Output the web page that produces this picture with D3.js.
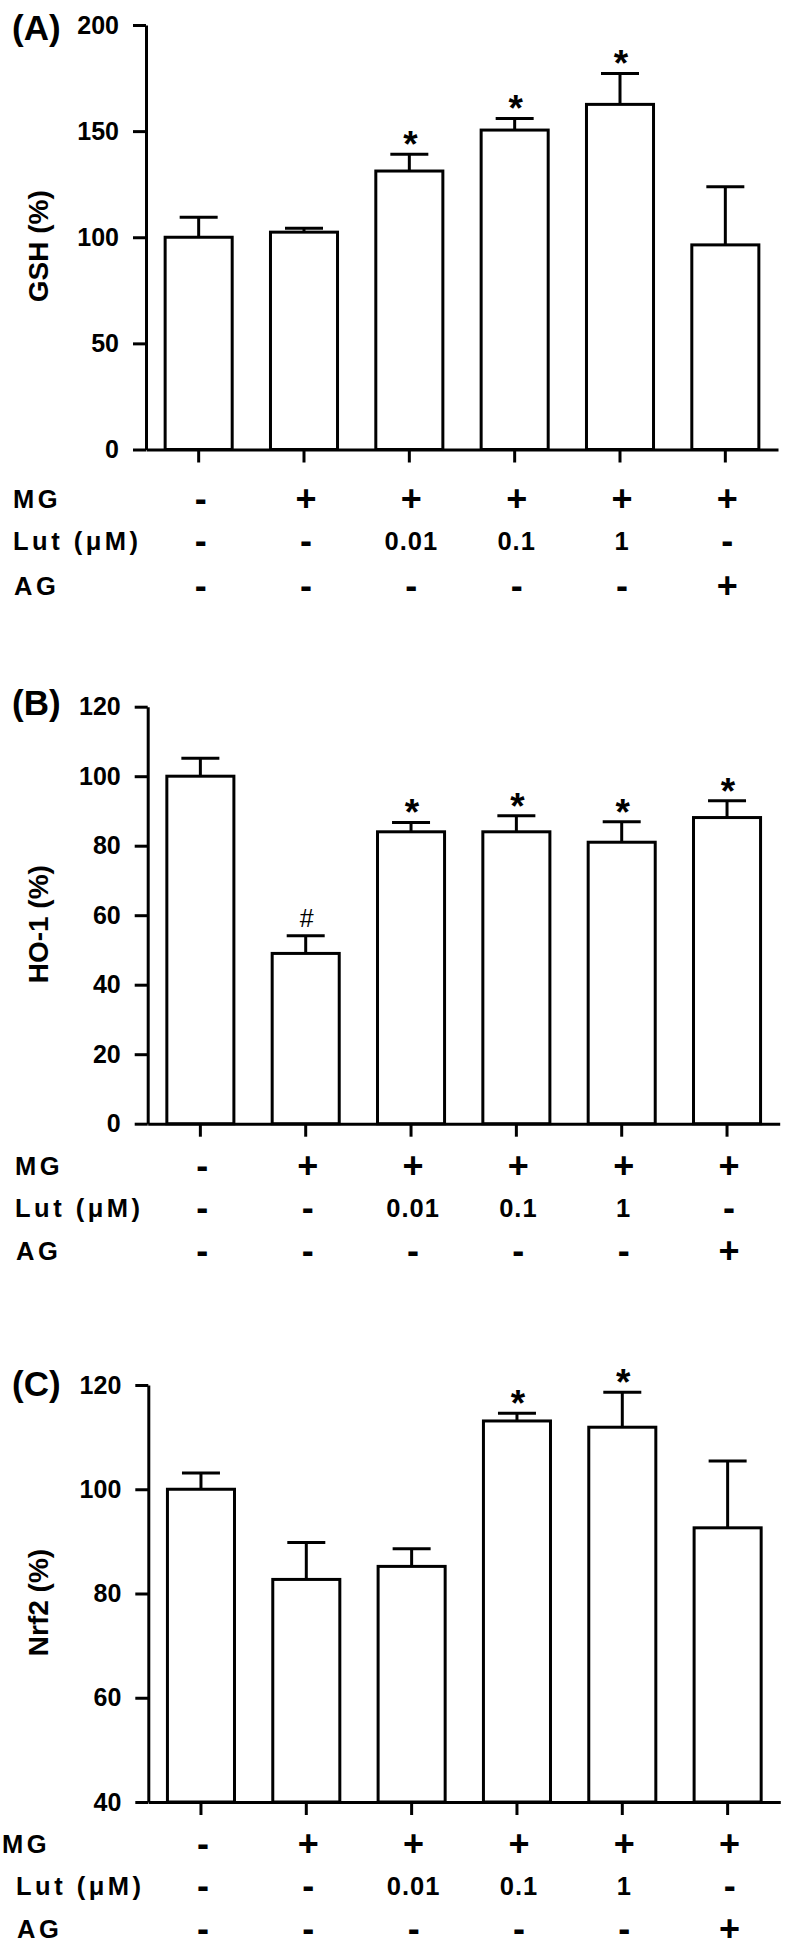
<!DOCTYPE html>
<html>
<head>
<meta charset="utf-8">
<script src="https://cdn.jsdelivr.net/npm/d3@7"></script>
<style>
  html, body { margin: 0; padding: 0; background: #fff; }
  svg { display: block; }
  text { font-family: "Liberation Sans", Arial, Helvetica, sans-serif; fill: #000; }
</style>
</head>
<body>
<svg id="chart" width="787" height="1953"></svg>
<script>
// ---------------- DATA ----------------
const groups = ["Control", "MG", "MG+Lut 0.01", "MG+Lut 0.1", "MG+Lut 1", "MG+AG"];
const rowNames = ["MG", "Lut (\u03bcM)", "AG"];
const rowMG  = ["-", "+", "+", "+", "+", "+"];
const rowLut = ["-", "-", "0.01", "0.1", "1", "-"];
const rowAG  = ["-", "-", "-", "-", "-", "+"];

const gshMean = [100, 102.4, 131.2, 150.5, 162.6, 96.4];
const gshErr  = [9.4, 1.8, 7.9, 5.5, 14.6, 27.4];
const gshSig  = ["", "", "*", "*", "*", ""];
const gshTicks = [0, 50, 100, 150, 200];

const ho1Mean = [100, 49, 84, 84, 81, 88.1];
const ho1Err  = [5.2, 5.1, 2.7, 4.6, 5.9, 4.8];
const ho1Sig  = ["", "#", "*", "*", "*", "*"];
const ho1Ticks = [0, 20, 40, 60, 80, 100, 120];

const nrf2Mean = [100, 82.7, 85.2, 113.1, 111.9, 92.6];
const nrf2Err  = [3.1, 7.1, 3.4, 1.5, 6.7, 12.8];
const nrf2Sig  = ["", "", "", "*", "*", ""];
const nrf2Ticks = [40, 60, 80, 100, 120];

const panelLetters = ["(A)", "(B)", "(C)"];
const panelTitles = ["GSH (%)", "HO-1 (%)", "Nrf2 (%)"];

// ---------------- LAYOUT ----------------
const layouts = [
  { axisX: 146,   yBottom: 449.5,  yTop: 25,    letterY: 40,   rowY: [508, 550, 595],      labelX: [13, 13, 14] },
  { axisX: 147.7, yBottom: 1123.7, yTop: 706.7, letterY: 715,  rowY: [1175, 1216.7, 1260], labelX: [15, 15, 16] },
  { axisX: 148.3, yBottom: 1802,   yTop: 1385,  letterY: 1396, rowY: [1853, 1895, 1938],   labelX: [2, 16, 17] }
];

const panels = [
  { mean: gshMean,  err: gshErr,  sig: gshSig,  ticks: gshTicks,  domain: [0, 200] },
  { mean: ho1Mean,  err: ho1Err,  sig: ho1Sig,  ticks: ho1Ticks,  domain: [0, 120] },
  { mean: nrf2Mean, err: nrf2Err, sig: nrf2Sig, ticks: nrf2Ticks, domain: [40, 120] }
];
const rows = [rowMG, rowLut, rowAG];

const svg = d3.select("#chart");
svg.append("rect").attr("width", 787).attr("height", 1953).attr("fill", "#fff");

const SW = 3;
panels.forEach((p, pi) => {
  const L = layouts[pi];
  const g = svg.append("g");

  const y = d3.scaleLinear().domain(p.domain).range([L.yBottom, L.yTop]);
  const x = d3.scaleBand().domain(groups).range([L.axisX, L.axisX + 632])
              .paddingInner(0.335).paddingOuter(0.1675);

  // y axis
  const ya = g.append("g").attr("transform", `translate(${L.axisX},0)`)
    .call(d3.axisLeft(y).tickValues(p.ticks).tickSize(13).tickSizeOuter(0).tickPadding(14));
  ya.selectAll("path, line").attr("stroke", "#000").attr("stroke-width", SW);
  ya.selectAll("text").attr("font-size", 25).attr("font-weight", "bold")
    .attr("font-family", "'Liberation Sans', Arial, sans-serif").attr("fill", "#000");

  // x axis
  const xa = g.append("g").attr("transform", `translate(0,${L.yBottom})`)
    .call(d3.axisBottom(x).tickSize(13).tickSizeOuter(0).tickFormat(() => ""));
  xa.selectAll("path, line").attr("stroke", "#000").attr("stroke-width", SW);

  // error bars
  groups.forEach((grp, i) => {
    const cx = x(grp) + x.bandwidth() / 2;
    const yt = y(p.mean[i] + p.err[i]);
    g.append("line").attr("x1", cx).attr("x2", cx)
      .attr("y1", y(p.mean[i])).attr("y2", yt)
      .attr("stroke", "#000").attr("stroke-width", SW);
    g.append("line").attr("x1", cx - 19).attr("x2", cx + 19)
      .attr("y1", yt).attr("y2", yt)
      .attr("stroke", "#000").attr("stroke-width", SW);
    if (p.sig[i] === "*") {
      g.append("text").attr("x", cx + 1).attr("y", yt + 3)
        .attr("text-anchor", "middle").attr("font-size", 37).attr("font-weight", "bold")
        .text("*");
    } else if (p.sig[i] === "#") {
      g.append("text").attr("x", cx + 1).attr("y", yt - 9)
        .attr("text-anchor", "middle").attr("font-size", 25)
        .text("#");
    }
  });

  // bars
  g.selectAll("rect.bar").data(groups).enter().append("rect")
    .attr("class", "bar")
    .attr("x", d => x(d) + SW / 2)
    .attr("width", x.bandwidth() - SW)
    .attr("y", (d, i) => y(p.mean[i]))
    .attr("height", (d, i) => L.yBottom - y(p.mean[i]))
    .attr("fill", "#fff").attr("stroke", "#000").attr("stroke-width", SW);

  // panel letter
  g.append("text").attr("x", 12).attr("y", L.letterY)
    .attr("font-size", 35).attr("font-weight", "bold").text(panelLetters[pi]);

  // y title
  const tcy = (L.yTop + L.yBottom) / 2 + 9;
  g.append("text").attr("transform", `translate(48,${tcy}) rotate(-90)`)
    .attr("text-anchor", "middle").attr("font-size", 28).attr("font-weight", "bold")
    .text(panelTitles[pi]);

  // condition rows
  rows.forEach((vals, ri) => {
    g.append("text").attr("x", L.labelX[ri]).attr("y", L.rowY[ri])
      .attr("font-size", 25.5).attr("font-weight", "bold").attr("letter-spacing", 3.5)
      .text(rowNames[ri]);
    vals.forEach((v, i) => {
      const cx = x(groups[i]) + x.bandwidth() / 2;
      const isSym = (v === "+" || v === "-");
      g.append("text").attr("x", cx + 2).attr("y", L.rowY[ri] + (isSym ? 3 : 0))
        .attr("text-anchor", "middle")
        .attr("font-size", isSym ? 36 : 25.5).attr("font-weight", "bold")
        .attr("letter-spacing", isSym ? 0 : 1)
        .text(v);
    });
  });
});
</script>
</body>
</html>
